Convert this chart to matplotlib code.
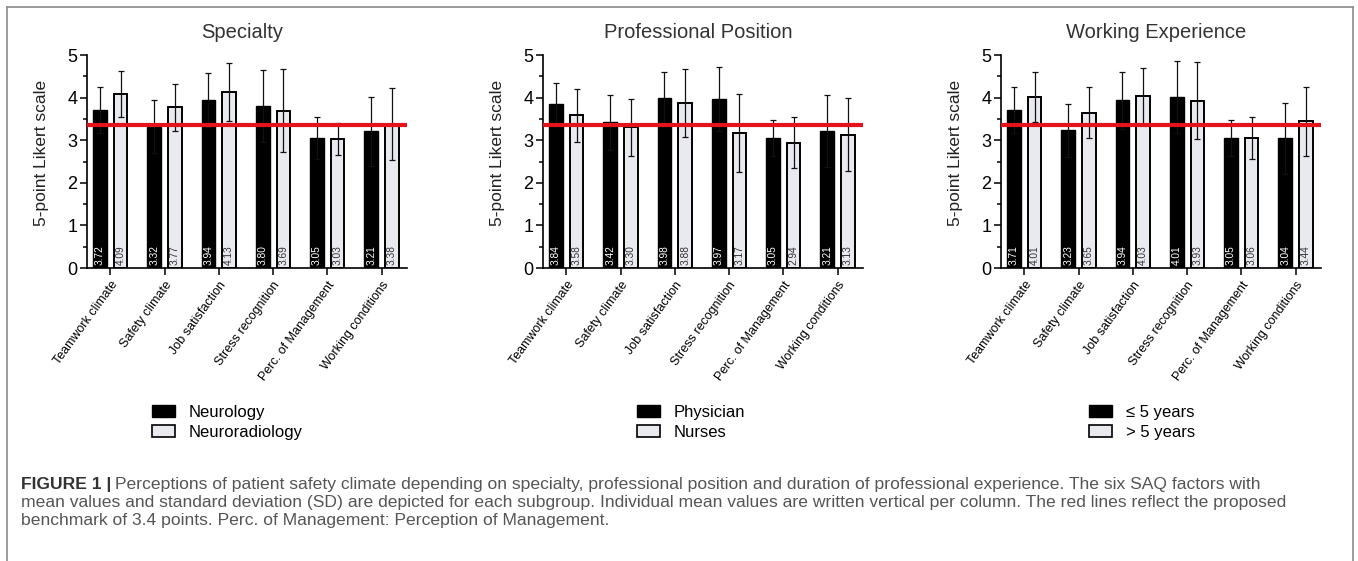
import matplotlib
matplotlib.use("Agg")
import matplotlib.pyplot as plt
from matplotlib.patches import Patch
import numpy as np

plt.rcParams['font.family'] = ['Liberation Sans', 'DejaVu Sans']

factors = ["Teamwork climate", "Safety climate", "Job satisfaction",
           "Stress recognition", "Perc. of Management", "Working conditions"]

titles = ["Specialty", "Professional Position", "Working Experience"]
group_labels = [["Neurology", "Neuroradiology"],
                ["Physician", "Nurses"],
                ["≤ 5 years", "> 5 years"]]

# Specialty
neurology_mean = [3.72, 3.32, 3.94, 3.80, 3.05, 3.21]
neurology_sd = [0.54, 0.62, 0.64, 0.85, 0.49, 0.81]
neuroradiology_mean = [4.09, 3.77, 4.13, 3.69, 3.03, 3.38]
neuroradiology_sd = [0.54, 0.55, 0.69, 0.97, 0.38, 0.84]
# Professional position
physician_mean = [3.84, 3.42, 3.98, 3.97, 3.05, 3.21]
physician_sd = [0.51, 0.64, 0.61, 0.75, 0.43, 0.84]
nurses_mean = [3.58, 3.30, 3.88, 3.17, 2.94, 3.13]
nurses_sd = [0.62, 0.66, 0.80, 0.92, 0.60, 0.86]
# Working experience
le5_mean = [3.71, 3.23, 3.94, 4.01, 3.05, 3.04]
le5_sd = [0.53, 0.63, 0.67, 0.85, 0.43, 0.84]
gt5_mean = [4.01, 3.65, 4.03, 3.93, 3.06, 3.44]
gt5_sd = [0.59, 0.61, 0.67, 0.91, 0.49, 0.82]

benchmark = 3.36

panels = [
    (neurology_mean, neurology_sd, neuroradiology_mean, neuroradiology_sd),
    (physician_mean, physician_sd, nurses_mean, nurses_sd),
    (le5_mean, le5_sd, gt5_mean, gt5_sd),
]

W, H = 1358, 561
fig = plt.figure(figsize=(W / 100, H / 100), dpi=100)

ax_lefts = [87, 543, 1001]
ax_w = 320
ax_top, ax_bot = 55, 268
legend_x = [152, 637, 1089]

light = '#e9eaf0'
red = '#e3141b'

for i, (m1, s1, m2, s2) in enumerate(panels):
    ax = fig.add_axes([ax_lefts[i] / W, 1 - ax_bot / H, ax_w / W, (ax_bot - ax_top) / H])
    x = np.arange(len(factors))
    off, bw = 0.19, 0.25
    ax.bar(x - off, m1, width=bw, color='black', edgecolor='black', linewidth=1.0, zorder=2)
    ax.bar(x + off, m2, width=bw, color=light, edgecolor='black', linewidth=1.4, zorder=2)
    ax.errorbar(x - off, m1, yerr=s1, fmt='none', ecolor='#111111', elinewidth=0.9,
                capsize=2, capthick=0.9, zorder=3)
    ax.errorbar(x + off, m2, yerr=s2, fmt='none', ecolor='#111111', elinewidth=0.9,
                capsize=2, capthick=0.9, zorder=3)
    for xi, v in zip(x - off, m1):
        ax.text(xi, 0.07, f"{v:.2f}", rotation=90, ha='center', va='bottom',
                fontsize=7.3, color='white', zorder=5)
    for xi, v in zip(x + off, m2):
        ax.text(xi, 0.07, f"{v:.2f}", rotation=90, ha='center', va='bottom',
                fontsize=7.3, color='#333333', zorder=5)
    ax.axhline(benchmark, color=red, linewidth=3.0, zorder=4)
    ax.set_xlim(-0.43, 5.47)
    ax.set_ylim(0, 5)
    ax.set_yticks([0, 1, 2, 3, 4, 5])
    ax.set_yticks(np.arange(0.5, 5, 1.0), minor=True)
    ax.tick_params(axis='y', which='major', length=5, width=1.1, labelsize=13, pad=2)
    ax.tick_params(axis='y', which='minor', length=3, width=1.1)
    ax.set_xticks(x)
    ax.set_xticklabels(factors, rotation=54, ha='right', va='top',
                       rotation_mode='anchor', fontsize=9)
    ax.tick_params(axis='x', length=5, width=1.1, pad=3)
    for sp in ['top', 'right']:
        ax.spines[sp].set_visible(False)
    for sp in ['left', 'bottom']:
        ax.spines[sp].set_linewidth(1.2)
    ax.set_ylabel("5-point Likert scale", fontsize=12.5, color='#222222')
    ax.yaxis.set_label_coords(-0.118, 0.54)
    ax.set_title(titles[i], fontsize=14.5, color='#333333', pad=12, x=0.485)
    handles = [Patch(facecolor='black', edgecolor='black', label=group_labels[i][0]),
               Patch(facecolor=light, edgecolor='black', linewidth=1.2, label=group_labels[i][1])]
    ax.legend(handles=handles, loc='upper left',
              bbox_to_anchor=(legend_x[i] / W, 1 - 405 / H), bbox_transform=fig.transFigure,
              frameon=False, fontsize=12, handlelength=1.4, handleheight=0.7,
              handletextpad=0.8, labelspacing=0.3, borderpad=0, borderaxespad=0)

# outer frame
frame_col = '#8a8a8a'
fig.add_artist(plt.Line2D([7 / W, 7 / W], [0, 1 - 7 / H], color=frame_col, lw=1.2,
                          transform=fig.transFigure))
fig.add_artist(plt.Line2D([7 / W, 1353 / W], [1 - 7 / H, 1 - 7 / H], color=frame_col, lw=1.2,
                          transform=fig.transFigure))
fig.add_artist(plt.Line2D([1353 / W, 1353 / W], [0, 1 - 7 / H], color=frame_col, lw=1.2,
                          transform=fig.transFigure))

# caption
cap_fs = 12.6
lines = [
    "Perceptions of patient safety climate depending on specialty, professional position and duration of professional experience. The six SAQ factors with",
    "mean values and standard deviation (SD) are depicted for each subgroup. Individual mean values are written vertical per column. The red lines reflect the proposed",
    "benchmark of 3.4 points. Perc. of Management: Perception of Management.",
]
ys = [485, 502.5, 520]
bold = fig.text(21 / W, 1 - ys[0] / H, "FIGURE 1 |", fontsize=cap_fs, fontweight='bold',
                color='#333333', va='center', ha='left')
renderer = fig.canvas.get_renderer()
bb = bold.get_window_extent(renderer=renderer)
fig.text((bb.x1 + 4) / W, 1 - ys[0] / H, lines[0], fontsize=cap_fs, color='#555555',
         va='center', ha='left')
for ln, y in zip(lines[1:], ys[1:]):
    fig.text(21 / W, 1 - y / H, ln, fontsize=cap_fs, color='#555555', va='center', ha='left')

fig.savefig("out.png", dpi=100)
